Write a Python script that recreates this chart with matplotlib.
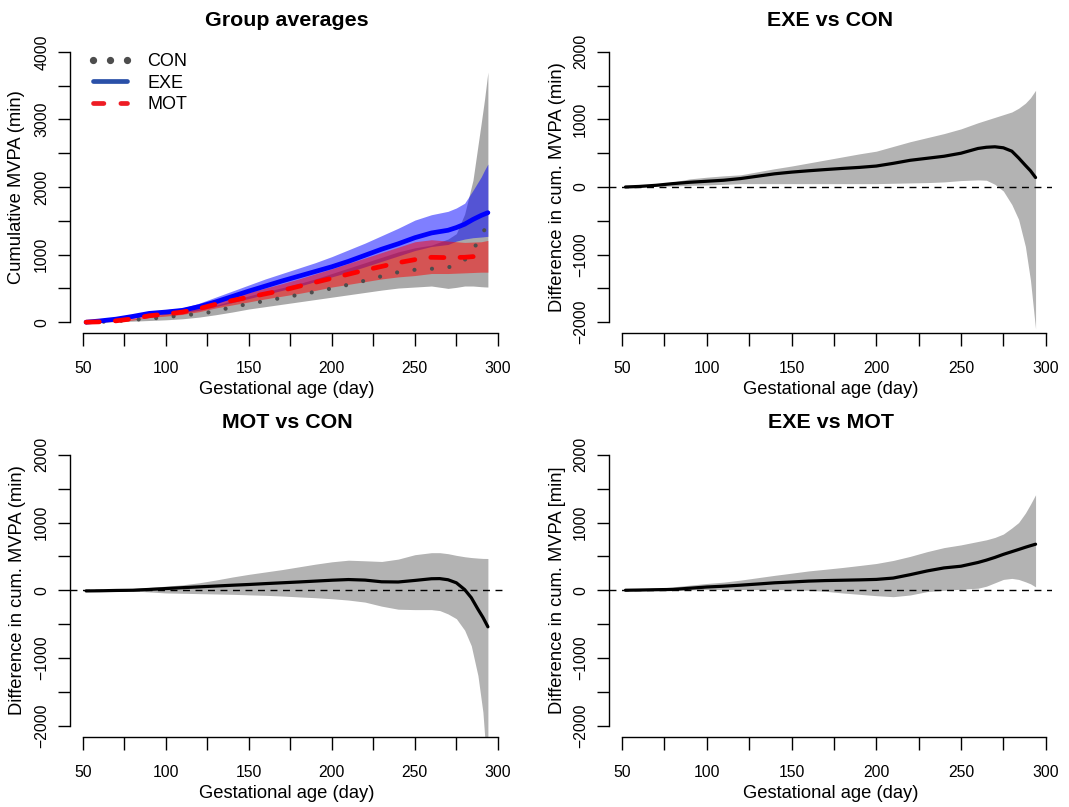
import matplotlib
matplotlib.use("Agg")
import matplotlib.pyplot as plt
from matplotlib.lines import Line2D

plt.rcParams['font.family'] = ['Liberation Sans', 'DejaVu Sans']

# Gestational age grid (day)
days = [52, 60, 70, 80, 90, 100, 110, 120, 130, 140, 150, 160, 170, 180, 190,
        200, 210, 220, 230, 240, 250, 260, 270, 275, 280, 285, 290, 292, 294]

# Group averages: cumulative MVPA (min)
con_mean = [0, 5, 15, 35, 50, 75, 100, 125, 160, 225, 270, 315, 360, 405, 450,
            500, 555, 615, 680, 740, 775, 790, 810, 850, 920, 1070, 1270, 1370, 1420]
con_lo = [0, 2, 8, 15, 25, 35, 50, 75, 110, 150, 195, 230, 265, 300, 335,
          370, 405, 440, 475, 505, 520, 535, 500, 515, 535, 535, 525, 522, 520]
con_hi = [0, 10, 25, 50, 75, 125, 160, 200, 250, 320, 390, 450, 510, 570, 640,
          720, 800, 880, 960, 1040, 1100, 1140, 1230, 1310, 1600, 2100, 2950, 3300, 3700]

exe_mean = [0, 18, 45, 85, 130, 150, 175, 230, 300, 380, 460, 535, 610, 680, 750,
            820, 900, 990, 1080, 1160, 1250, 1320, 1360, 1400, 1450, 1520, 1580, 1600, 1620]
exe_lo = [0, 10, 35, 65, 95, 115, 140, 175, 230, 290, 350, 410, 470, 530, 600,
          670, 740, 820, 900, 980, 1060, 1120, 1150, 1200, 1230, 1250, 1260, 1265, 1270]
exe_hi = [5, 25, 60, 110, 160, 185, 210, 280, 370, 460, 550, 640, 720, 800, 880,
          970, 1070, 1170, 1280, 1390, 1510, 1590, 1640, 1690, 1760, 1950, 2150, 2250, 2340]

mot_mean = [0, 5, 20, 50, 95, 120, 150, 200, 265, 320, 370, 420, 470, 530, 590,
            650, 710, 770, 825, 880, 925, 960, 955, 958, 960, 970, 960, 955, 950]
mot_lo = [0, 2, 10, 30, 70, 90, 115, 155, 210, 255, 300, 345, 385, 425, 470,
          520, 560, 600, 640, 670, 690, 720, 720, 725, 730, 735, 740, 740, 740]
mot_hi = [2, 10, 30, 70, 115, 140, 175, 230, 300, 370, 440, 505, 570, 640, 715,
          790, 870, 950, 1030, 1110, 1190, 1220, 1200, 1190, 1180, 1185, 1190, 1200, 1210]

# Pairwise differences (min)
ddays = [52, 60, 70, 80, 90, 100, 110, 120, 130, 140, 150, 160, 170, 180, 190,
         200, 210, 220, 230, 240, 250, 260, 265, 270, 275, 280, 284, 288, 291, 294]

exe_con = [0, 8, 25, 50, 70, 85, 100, 125, 160, 195, 220, 240, 258, 275, 290,
           310, 350, 395, 425, 455, 500, 570, 588, 595, 580, 530, 430, 320, 240, 140]
exe_con_lo = [0, 3, 10, 15, 25, 30, 40, 50, 50, 50, 50, 50, 50, 50, 50,
              50, 55, 60, 65, 75, 95, 105, 100, 40, -60, -260, -480, -880, -1380, -2100]
exe_con_hi = [0, 12, 35, 75, 120, 145, 165, 180, 225, 270, 310, 355, 400, 445, 490,
              530, 600, 670, 730, 790, 860, 950, 990, 1030, 1070, 1110, 1165, 1240, 1320, 1430]

mot_con = [-10, -8, -3, 0, 12, 25, 38, 50, 62, 74, 85, 98, 110, 122, 135,
           148, 158, 150, 125, 122, 145, 170, 172, 155, 110, 10, -110, -280, -400, -540]
mot_con_lo = [-15, -15, -12, -10, -25, -40, -45, -50, -55, -60, -68, -75, -85, -98, -110,
              -125, -145, -175, -235, -280, -286, -286, -300, -350, -420, -590, -820, -1260, -1800, -2800]
mot_con_hi = [-5, 0, 10, 25, 42, 60, 80, 110, 150, 195, 235, 270, 305, 345, 385,
              420, 444, 435, 425, 460, 525, 555, 555, 540, 515, 495, 483, 475, 470, 469]

exe_mot = [0, 3, 8, 12, 30, 48, 60, 75, 92, 110, 122, 135, 143, 148, 153,
           160, 180, 230, 285, 330, 355, 410, 445, 485, 530, 570, 602, 635, 658, 680]
exe_mot_lo = [0, 0, 0, 0, 5, 10, 10, 10, 10, 10, 5, 0, -15, -40, -60,
              -80, -95, -70, -20, 0, 15, 30, 60, 110, 160, 175, 160, 125, 95, 50]
exe_mot_hi = [0, 10, 25, 50, 75, 100, 120, 150, 185, 220, 252, 285, 310, 336, 365,
              395, 440, 500, 570, 630, 670, 720, 745, 780, 830, 920, 1000, 1140, 1270, 1410]

W, H = 1069, 807
fig = plt.figure(figsize=(W / 100, H / 100), dpi=100)


def make_axes(left, top, width, height, ylim, yticks):
    ax = fig.add_axes([left / W, 1 - (top + height) / H, width / W, height / H])
    ax.set_xlim(42.3, 303.7)
    ax.set_ylim(*ylim)
    for s in ['top', 'right']:
        ax.spines[s].set_visible(False)
    ax.spines['left'].set_bounds(yticks[0], yticks[-1])
    ax.spines['bottom'].set_bounds(50, 300)
    for s in ['left', 'bottom']:
        ax.spines[s].set_linewidth(1.0)
    ax.set_xticks([50, 75, 100, 125, 150, 175, 200, 225, 250, 275, 300])
    ax.set_xticklabels(['50', '', '100', '', '150', '', '200', '', '250', '', '300'])
    ax.set_yticks(yticks)
    ylabels = [str(v) if i % 2 == 0 else '' for i, v in enumerate(yticks)]
    ax.set_yticklabels([l.replace('-', '\u2212') for l in ylabels])
    ax.tick_params(axis='both', direction='out', length=9, width=1.0,
                   labelsize=11.3, colors='black')
    ax.tick_params(axis='x', pad=11.5)
    ax.tick_params(axis='y', pad=6, labelrotation=90)
    for lab in ax.get_yticklabels():
        lab.set_va('center')
    ax.text(0.5, -57 / height, 'Gestational age (day)', transform=ax.transAxes,
            ha='center', va='center', fontsize=13.2)
    return ax


# top-left: group averages
ax1 = make_axes(70, 41, 434, 292, (-160, 4160), [0, 500, 1000, 1500, 2000, 2500, 3000, 3500, 4000])
ax1.fill_between(days, con_lo, con_hi, color='#555555', alpha=0.5, lw=0)
ax1.fill_between(days, exe_lo, exe_hi, color='#0000ff', alpha=0.5, lw=0)
ax1.fill_between(days, mot_lo, mot_hi, color='#ff0000', alpha=0.5, lw=0)
ax1.plot(days, con_mean, color='#4d4d4d', lw=3, linestyle=(0, (0.01, 4.2)),
         dash_capstyle='round')
ax1.plot(days, exe_mean, color='#0000ff', lw=3.4, solid_capstyle='round')
ax1.plot(days, mot_mean, color='#ff0000', lw=3.4, linestyle=(0, (2.8, 3.4)),
         dash_capstyle='round')
ax1.text(0.5, 1 + 21 / 292, 'Group averages', transform=ax1.transAxes,
         ha='center', va='center', fontsize=15.4, fontweight='bold')
ax1.text(-53 / 434, 0.5, 'Cumulative MVPA (min)', transform=ax1.transAxes,
         ha='center', va='center', rotation=90, fontsize=13.2)
handles = [
    Line2D([], [], color='#4d4d4d', ls='none', marker='o', ms=4.2),
    Line2D([], [], color='#2a50a8', lw=3.4, solid_capstyle='round'),
    Line2D([], [], color='#ee1c24', lw=3.4, linestyle=(0, (2.2, 3.6)), dash_capstyle='round'),
]
ax1.legend(handles, ['CON', 'EXE', 'MOT'], loc='upper left', frameon=False,
           bbox_to_anchor=(18 / 434, 1 - 12 / 292), borderpad=0, borderaxespad=0,
           handlelength=2.45, handletextpad=0.85, labelspacing=0.25,
           numpoints=3, fontsize=13)

# difference panels
panels = [
    (609, 41, 443, 292, 'EXE vs CON', 'Difference in cum. MVPA (min)', exe_con, exe_con_lo, exe_con_hi),
    (70, 444, 434, 292.5, 'MOT vs CON', 'Difference in cum. MVPA (min)', mot_con, mot_con_lo, mot_con_hi),
    (609, 444, 443, 292.5, 'EXE vs MOT', 'Difference in cum. MVPA [min]', exe_mot, exe_mot_lo, exe_mot_hi),
]
for left, top, width, height, title, ylab, mean, lo, hi in panels:
    ax = make_axes(left, top, width, height, (-2160, 2160),
                   [-2000, -1500, -1000, -500, 0, 500, 1000, 1500, 2000])
    ax.fill_between(ddays, lo, hi, color='#b3b3b3', lw=0)
    ax.axhline(0, color='black', lw=1.0, linestyle=(0, (5, 4)))
    ax.plot(ddays, mean, color='black', lw=2.3, solid_capstyle='round')
    ax.text(0.5, 1 + 21 / height, title, transform=ax.transAxes,
            ha='center', va='center', fontsize=15.4, fontweight='bold')
    ax.text(-52 / width, 0.5, ylab, transform=ax.transAxes,
            ha='center', va='center', rotation=90, fontsize=13.2)

fig.savefig('out.png', dpi=100)
